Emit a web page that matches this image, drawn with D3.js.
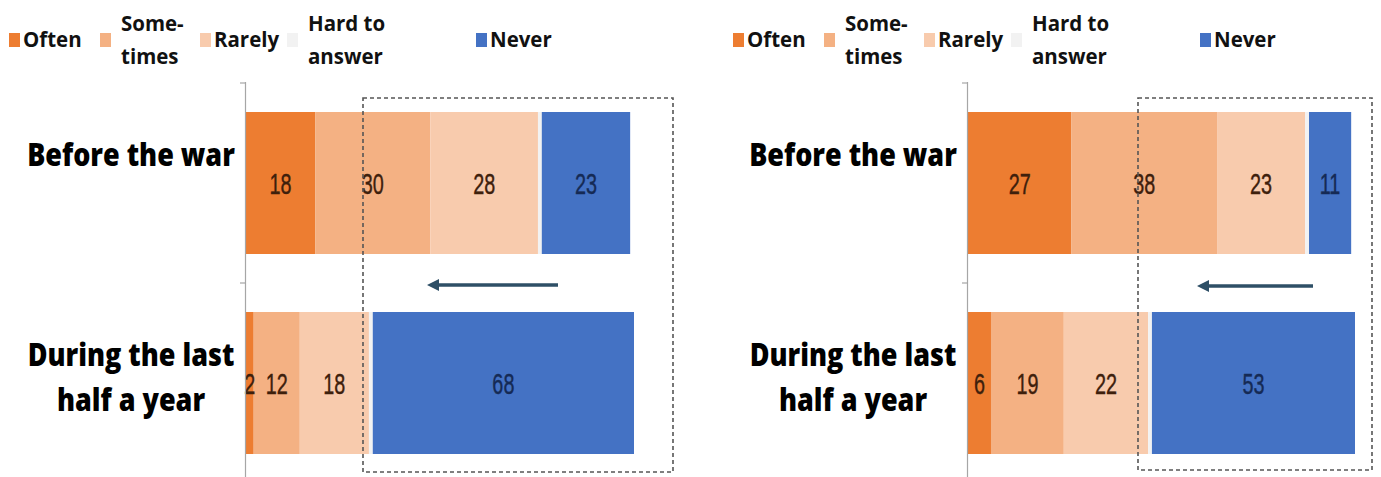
<!DOCTYPE html>
<html>
<head>
<meta charset="utf-8">
<script src="https://cdn.jsdelivr.net/npm/d3@7"></script>
<style>
  body { margin: 0; background: #fff; }
  svg { display: block; }
</style>
</head>
<body>
<div id="chart"></div>
<script>
// answer categories, in stacking order
var categories = ["Often", "Sometimes", "Rarely", "Hard to answer", "Never"];
var legendLines = [["Often"], ["Some-", "times"], ["Rarely"], ["Hard to", "answer"], ["Never"]];
var colors = ["#ed7d31", "#f4b183", "#f8cbad", "#f2f2f2", "#4472c4"];

// the two periods (rows)
var periods = ["Before the war", "During the last half a year"];
var periodLines = [["Before the war"], ["During the last", "half a year"]];

// left chart, % per category
var leftBefore = [18, 30, 28, 1, 23];
var leftDuring = [2, 12, 18, 1, 68];
// right chart, % per category
var rightBefore = [27, 38, 23, 1, 11];
var rightDuring = [6, 19, 22, 1, 53];

var width = 1381;
var height = 477;

// layout of each panel (positions only, no values)
var panels = [
  { rows: [leftBefore, leftDuring], axisX: 246, xEnd: 634, legendX: 0,
    box: [363, 98, 673, 472], arrow: [558, 427, 285] },
  { rows: [rightBefore, rightDuring], axisX: 968, xEnd: 1355, legendX: 724,
    box: [1138, 98, 1372, 470], arrow: [1313, 1197, 286] }
];
var legendSquareX = [9, 100, 200, 287, 476]; // offsets of legend squares

var svg = d3.select('#chart')
  .append('svg')
  .attr('width', width)
  .attr('height', height);

var color = d3.scaleOrdinal().domain(categories).range(colors);

// y scale shared by both panels
var y = d3.scaleBand()
  .domain(periods)
  .range([83, 483])
  .paddingInner(0.29)
  .paddingOuter(0.145);

var stack = d3.stack().keys(categories);

// squeeze text horizontally (the source picture is narrowed)
function squeeze(sel, k) {
  sel.each(function() {
    var w = this.getComputedTextLength();
    d3.select(this).attr('textLength', w * k).attr('lengthAdjust', 'spacingAndGlyphs');
  });
}

panels.forEach(function(p) {
  var g = svg.append('g');

  var table = p.rows.map(function(vals, i) {
    var row = { period: periods[i] };
    categories.forEach(function(c, j) { row[c] = vals[j]; });
    return row;
  });
  var totals = p.rows.map(function(v) { return d3.sum(v); });

  var x = d3.scaleLinear()
    .domain([0, d3.max(totals)])
    .range([p.axisX, p.xEnd]);

  var series = stack(table);

  // bars
  var layer = g.selectAll('.layer')
    .data(series)
    .enter()
    .append('g')
    .attr('class', 'layer')
    .attr('fill', function(d) { return color(d.key); });

  layer.selectAll('rect')
    .data(function(d) { return d; })
    .enter()
    .append('rect')
    .attr('x', function(d) { return x(d[0]); })
    .attr('y', function(d) { return y(d.data.period); })
    .attr('width', function(d) { return x(d[1]) - x(d[0]); })
    .attr('height', y.bandwidth());

  // value labels (not for "hard to answer")
  series.forEach(function(s) {
    if (s.key === "Hard to answer") return;
    var lab = g.selectAll(null)
      .data(s)
      .enter()
      .append('text')
      .attr('x', function(d) { return (x(d[0]) + x(d[1])) / 2; })
      .attr('y', function(d) { return y(d.data.period) + y.bandwidth() / 2; })
      .attr('dy', '0.36em')
      .attr('text-anchor', 'middle')
      .style('font-family', '"Liberation Sans", Arial, sans-serif')
      .style('font-size', '30px')
      .style('fill', s.key === "Never" ? '#152a55' : '#3e200c')
      .style('stroke', s.key === "Never" ? '#152a55' : '#3e200c')
      .style('stroke-width', 0.4)
      .text(function(d) { return d.data[s.key]; });
    squeeze(lab, 0.66);
  });

  // axis line with ticks between the bands
  g.append('line')
    .attr('x1', p.axisX - 0.5).attr('x2', p.axisX - 0.5)
    .attr('y1', y.range()[0] - 1).attr('y2', height)
    .attr('stroke', '#a6a6a6').attr('stroke-width', 1.2);
  var bounds = [y.range()[0], y.range()[0] + y.step(), y.range()[1]];
  g.selectAll('.tick')
    .data(bounds)
    .enter()
    .append('line')
    .attr('x1', p.axisX - 6).attr('x2', p.axisX)
    .attr('y1', function(d) { return d; }).attr('y2', function(d) { return d; })
    .attr('stroke', '#a6a6a6').attr('stroke-width', 1.2);

  // category labels
  periods.forEach(function(per, i) {
    var lines = periodLines[i];
    var first = y(per) + y.bandwidth() / 2 - 17;
    var t = g.selectAll(null)
      .data(lines)
      .enter()
      .append('text')
      .attr('x', p.axisX - 115)
      .attr('y', function(d, k) { return first + k * 45; })
      .attr('text-anchor', 'middle')
      .style('font-family', '"Open Sans", "Noto Sans", sans-serif')
      .style('font-weight', 800)
      .style('font-size', '31px')
      .style('fill', '#000')
      .text(function(d) { return d; });
    squeeze(t, 0.87);
  });

  // dashed highlight box
  g.append('rect')
    .attr('x', p.box[0]).attr('y', p.box[1])
    .attr('width', p.box[2] - p.box[0]).attr('height', p.box[3] - p.box[1])
    .attr('fill', 'none')
    .attr('stroke', '#555')
    .attr('stroke-width', 1.6)
    .attr('stroke-dasharray', '4,3');

  // arrow
  var a = p.arrow;
  g.append('line')
    .attr('x1', a[0]).attr('x2', a[1] + 8)
    .attr('y1', a[2]).attr('y2', a[2])
    .attr('stroke', '#2e4f66').attr('stroke-width', 3.5);
  g.append('path')
    .attr('d', 'M' + a[1] + ',' + a[2] + 'L' + (a[1] + 12) + ',' + (a[2] - 6) +
      'L' + (a[1] + 12) + ',' + (a[2] + 6) + 'Z')
    .attr('fill', '#2e4f66');

  // legend
  var legend = g.selectAll('.legend')
    .data(categories)
    .enter()
    .append('g')
    .attr('class', 'legend')
    .attr('transform', function(d, i) {
      return 'translate(' + (p.legendX + legendSquareX[i]) + ',0)';
    });

  legend.append('rect')
    .attr('x', 0).attr('y', 33)
    .attr('width', 11).attr('height', 14)
    .style('fill', function(d) { return color(d); });

  legend.each(function(d, i) {
    var lines = legendLines[i];
    var t = d3.select(this).selectAll('text')
      .data(lines)
      .enter()
      .append('text')
      .attr('x', lines.length === 1 ? 14 : 21)
      .attr('y', function(l, k) { return lines.length === 1 ? 47 : 31 + k * 33; })
      .style('font-family', '"Open Sans", "Noto Sans", sans-serif')
      .style('font-weight', 700)
      .style('font-size', '22px')
      .style('fill', '#111')
      .text(function(l) { return l; });
    squeeze(t, 0.93);
  });
});
</script>
</body>
</html>
